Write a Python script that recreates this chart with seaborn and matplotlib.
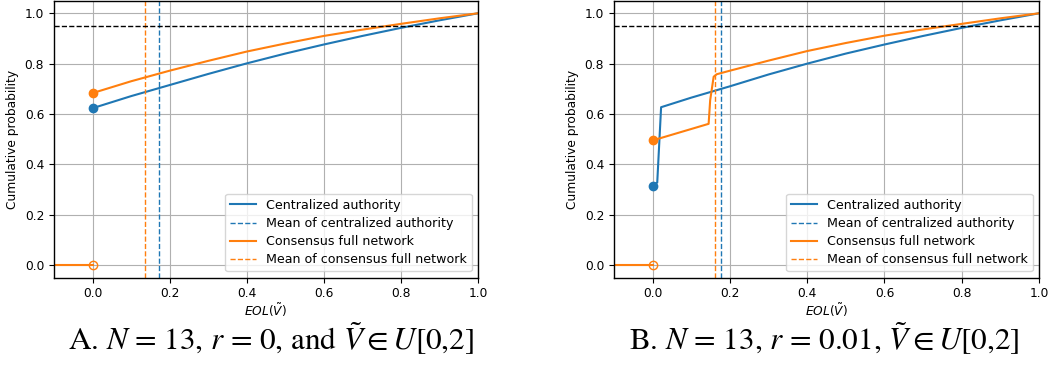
import matplotlib
matplotlib.use("Agg")
import matplotlib.pyplot as plt
import seaborn as sns

# values
grid_x = [0.0, 0.1, 0.2, 0.3, 0.4, 0.5, 0.6, 0.7, 0.8, 0.9, 1.0]
a_central = [0.623, 0.671, 0.715, 0.759, 0.801, 0.840, 0.876, 0.910, 0.942, 0.972, 1.0]
a_consensus = [0.683, 0.730, 0.772, 0.811, 0.848, 0.880, 0.910, 0.935, 0.958, 0.980, 1.0]
a_mean_central = 0.172
a_mean_consensus = 0.135

b_central_x = [0.0, 0.012, 0.022, 0.1, 0.2, 0.3, 0.4, 0.5, 0.6, 0.7, 0.8, 0.9, 1.0]
b_central = [0.316, 0.328, 0.627, 0.665, 0.710, 0.757, 0.800, 0.840, 0.876, 0.910, 0.942, 0.972, 1.0]
b_consensus_x = [0.0, 0.145, 0.149, 0.158, 0.166, 0.2, 0.3, 0.4, 0.5, 0.6, 0.7, 0.8, 0.9, 1.0]
b_consensus = [0.495, 0.561, 0.655, 0.748, 0.758, 0.772, 0.812, 0.850, 0.882, 0.911, 0.936, 0.958, 0.980, 1.0]
b_mean_central = 0.177
b_mean_consensus = 0.162

captions = [r"A. $N$ = 13, $r$ = 0, and $\tilde{V}\in U$[0,2]",
            r"B. $N$ = 13, $r$ = 0.01, $\tilde{V}\in U$[0,2]"]

blue, orange = "#1f77b4", "#ff7f0e"
fs = 8.8

plt.rcParams["mathtext.fontset"] = "dejavusans"

fig = plt.figure(figsize=(10.56, 3.68), dpi=100)
axes = [fig.add_axes([0.0511, 0.2454, 0.4015, 0.7527]),
        fig.add_axes([0.5814, 0.2454, 0.4025, 0.7527])]
cap_x = [0.2566, 0.7803]

panels = [
    (grid_x, a_central, grid_x, a_consensus, a_mean_central, a_mean_consensus),
    (b_central_x, b_central, b_consensus_x, b_consensus, b_mean_central, b_mean_consensus),
]

for ax, (cx, cy, ox, oy, mc, mo), cap, xc in zip(axes, panels, captions, cap_x):
    ax.grid(True, color="#b0b0b0", lw=0.8, zorder=0)
    ax.set_axisbelow(True)
    sns.lineplot(x=cx, y=cy, ax=ax, color=blue, lw=1.5, sort=False,
                 estimator=None, label="Centralized authority")
    ax.axvline(mc, color=blue, ls="--", lw=1, label="Mean of centralized authority")
    sns.lineplot(x=ox, y=oy, ax=ax, color=orange, lw=1.5, sort=False,
                 estimator=None, label="Consensus full network")
    ax.axvline(mo, color=orange, ls="--", lw=1, label="Mean of consensus full network")
    ax.axhline(0.95, color="k", ls="--", lw=1)
    ax.plot([-0.1, 0.0], [0.0, 0.0], color=orange, lw=1.5)
    ax.plot([0.0], [0.0], "o", mfc="none", mec=orange, ms=6)
    ax.plot([0.0], [cy[0]], "o", color=blue, ms=6)
    ax.plot([0.0], [oy[0]], "o", color=orange, ms=6)

    ax.set_xlim(-0.1, 1.0)
    ax.set_ylim(-0.05, 1.05)
    ax.set_xticks([0.0, 0.2, 0.4, 0.6, 0.8, 1.0])
    ax.set_yticks([0.0, 0.2, 0.4, 0.6, 0.8, 1.0])
    ax.tick_params(labelsize=fs)
    ax.set_xlabel(r"$EOL(\tilde{V})$", fontsize=fs, labelpad=1)
    ax.set_ylabel("Cumulative probability", fontsize=fs)
    for s in ax.spines.values():
        s.set_color("black")
        s.set_linewidth(1)
    ax.legend(loc="lower right", fontsize=9.1, labelspacing=0.41, framealpha=0.8)

    fig.text(xc, 0.05, cap, ha="center", va="baseline",
             fontsize=22.4, family="STIXGeneral", math_fontfamily="stix")

fig.savefig("out.png", dpi=100)
